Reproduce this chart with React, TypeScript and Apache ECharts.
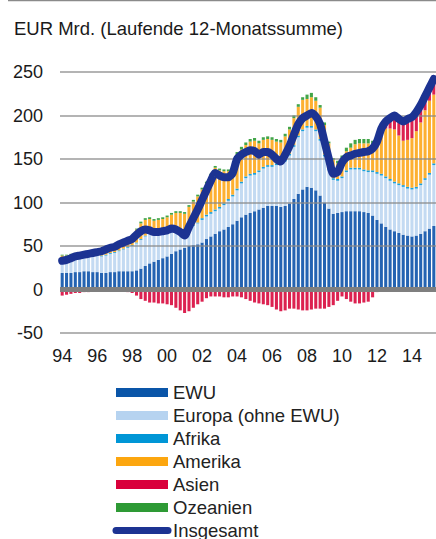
import React, { useEffect, useRef } from "react";
import * as echarts from "echarts";

// Quarterly values, 1994Q1 .. 2015Q2 (EUR Mrd., running 12-month sums)
const ewu = [19,19,19,20, 20,21,21,20, 20,19,19,20, 20,21,21,21, 21,22,24,27, 30,32,34,36, 38,41,44,46, 48,50,51,52, 54,58,61,64, 67,69,72,75, 79,83,86,88, 90,92,94,96, 96,96,95,96, 99,104,110,115, 118,117,114,108, 100,93,87,88, 89,90,90,90, 90,89,88,85, 80,76,72,69, 67,65,63,62, 61,62,64,67, 70,73];
const europa = [16,16,17,18, 18,18,18,19, 19,19,20,21, 22,23,25,27, 29,31,33,34, 34,33,31,30, 29,27,25,21, 18,19,22,24, 26,26,26,26, 26,28,30,32, 35,39,42,43, 42,43,45,45, 45,47,49,51, 55,60,65,67, 68,69,68,63, 53,44,39,37, 39,45,48,48, 48,47,47,50, 53,55,56,56, 55,55,55,54, 54,54,56,59, 62,70];
const afrika = [1,1,1,1, 1,1,1,1, 1,1,1,1, 1,1,1,1, 1,1,1,1, 1,1,1,1, 1,1,1,1, 1,1,1,1, 2,2,2,2, 2,2,2,2, 2,2,2,2, 2,2,2,2, 2,2,2,2, 2,2,2,2, 2,2,2,2, 2,2,2,2, 2,2,2,2, 2,2,2,2, 2,2,2,2, 2,2,2,2, 2,2,2,2, 2,2];
const amerika = [3,3,3,2, 3,2,3,3, 4,6,7,7, 7,8,8,9, 10,15,18,18, 16,13,14,14, 15,17,18,20, 20,25,27,30, 33,36,42,48, 42,37,32,31, 39,37,36,37, 37,31,31,30, 29,25,23,27, 28,31,33,34, 31,33,33,36, 34,29,21,18, 21,22,23,27, 28,30,31,30, 35,47,55,58, 60,55,51,54, 57,64,70,78, 83,79];
const asien = [-7,-6,-5,-4, -4,-3,-3,-2, -2,-2,-2,-2, -2,-2,-2,-3, -4,-7,-11,-13, -15,-15,-16,-16, -17,-18,-21,-24, -27,-25,-21,-17, -14,-10,-8,-8, -8,-9,-9,-8, -8,-9,-11,-13, -15,-16,-17,-18, -20,-23,-25,-24, -22,-22,-23,-24, -24,-23,-22,-22, -22,-20,-18,-13, -8,-11,-14,-16, -16,-15,-14,-9, -3,2,5,9, 13,16,19,21, 22,20,18,15, 14,17];
const ozeanien = [1,1,1,1, 1,1,1,1, 1,1,1,1, 1,1,1,1, 1,1,2,2, 2,2,2,2, 2,2,2,2, 2,2,2,2, 2,2,2,2, 2,2,2,2, 3,3,3,3, 3,3,3,3, 3,3,3,3, 3,3,3,3, 5,5,4,3, 3,2,2,3, 3,4,5,5, 5,5,5,4, 3,3,3,3, 3,3,3,3, 2,2,2,1, 1,1];

const yearTicks = ["94","96","98","00","02","04","06","08","10","12","14"];
const yValues = [-50, 0, 50, 100, 150, 200, 250];
const seriesNames = ["EWU", "Europa (ohne EWU)", "Afrika", "Amerika", "Asien", "Ozeanien"];
const lineName = "Insgesamt";
const titleText = "EUR Mrd. (Laufende 12-Monatssumme)";

const legendColors = ["#0a55a8", "#b6d3f0", "#0096d6", "#fca60f", "#d9003b", "#2e9a35"];
const barColors = ["#2463b2", "#c3daf2", "#1aa0dc", "#fdb031", "#dc2150", "#42a548"];
const lineColor = "#1c3392";
const FONT = "'Liberation Sans', Arial, sans-serif";

const categories: string[] = [];
for (let i = 0; i < ewu.length; i++) {
  const y = 1994 + Math.floor(i / 4);
  categories.push(`${y}Q${(i % 4) + 1}`);
}
const allSeries = [ewu, europa, afrika, amerika, asien, ozeanien];
const total = ewu.map((_, i) => allSeries.reduce((s, arr) => s + arr[i], 0));

export default function App() {
  const ref = useRef<HTMLDivElement>(null);
  useEffect(() => {
    if (!ref.current) return;
    const chart = echarts.init(ref.current, null, { renderer: "svg" });
    const barSeries: any[] = allSeries.map((data, k) => ({
      name: seriesNames[k],
      type: "bar",
      stack: "all",
      data,
      barCategoryGap: "30%",
      itemStyle: { color: barColors[k] },
      z: 2,
    }));
    barSeries[barSeries.length - 1].markLine = {
      silent: true,
      symbol: "none",
      animation: false,
      label: { show: false },
      data: yValues.map((v) => ({
        yAxis: v,
        lineStyle:
          v === 0
            ? { color: "#7f7f7f", width: 5, type: "solid", opacity: 1 }
            : { color: "#8a8a8a", width: 1.5, type: "solid", opacity: 0.85 },
      })),
    };
    const legendGraphics: any[] = [];
    const legendTop = 392.5;
    const step = 23;
    seriesNames.forEach((n, k) => {
      const cy = legendTop + k * step;
      legendGraphics.push({
        type: "rect",
        shape: { x: 116, y: cy - 4.5, width: 52, height: 9 },
        style: { fill: legendColors[k] },
      });
      legendGraphics.push({
        type: "text",
        x: 173,
        y: cy,
        style: { text: n, font: `18.5px ${FONT}`, fill: "#222", textVerticalAlign: "middle" },
      });
    });
    const ly = legendTop + seriesNames.length * step;
    legendGraphics.push({
      type: "line",
      shape: { x1: 116, y1: ly, x2: 168, y2: ly },
      style: { stroke: lineColor, lineWidth: 7, lineCap: "round" },
    });
    legendGraphics.push({
      type: "text",
      x: 173,
      y: ly,
      style: { text: lineName, font: `18.5px ${FONT}`, fill: "#222", textVerticalAlign: "middle" },
    });

    chart.setOption({
      animation: false,
      backgroundColor: "#ffffff",
      title: {
        text: titleText,
        left: 9,
        top: 14,
        textStyle: { fontFamily: FONT, fontSize: 18.5, fontWeight: "normal", color: "#1a1a1a" },
      },
      graphic: [
        {
          type: "line",
          shape: { x1: 8, y1: 0.5, x2: 436, y2: 0.5 },
          style: { stroke: "#8a8a8a", lineWidth: 1.5 },
        },
        ...legendGraphics,
      ],
      grid: { left: 60, right: 0, top: 72, height: 261 },
      xAxis: {
        type: "category",
        data: categories,
        boundaryGap: true,
        axisLine: { show: false, onZero: false },
        axisTick: { show: false },
        splitLine: { show: false },
        axisLabel: {
          interval: (i: number) => i % 8 === 0,
          formatter: (_: string, i: number) => yearTicks[i / 8] ?? "",
          fontFamily: FONT,
          fontSize: 18,
          color: "#1a1a1a",
          margin: 14,
        },
      },
      yAxis: {
        type: "value",
        min: -50,
        max: 250,
        interval: 50,
        axisLine: { show: false },
        axisTick: { show: false },
        splitLine: { show: false },
        axisLabel: { fontFamily: FONT, fontSize: 18, color: "#1a1a1a", margin: 17 },
      },
      series: [
        ...barSeries,
        {
          name: lineName,
          type: "line",
          data: total,
          symbol: "none",
          smooth: 0.2,
          z: 5,
          lineStyle: { color: lineColor, width: 8, cap: "round", join: "round" },
        },
      ],
    });
    return () => chart.dispose();
  }, []);
  return (
    <div
      ref={ref}
      style={{ position: "absolute", left: 0, top: 0, width: 436, height: 539 }}
    />
  );
}
